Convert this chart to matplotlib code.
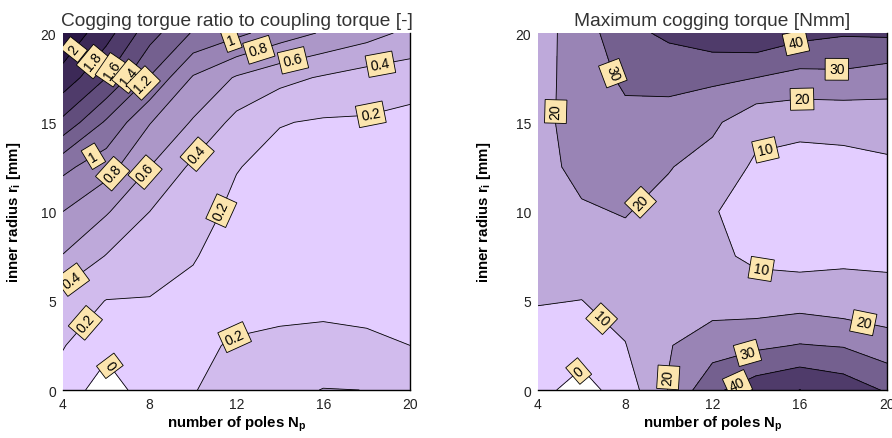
import numpy as np
import matplotlib
matplotlib.use('Agg')
import matplotlib.pyplot as plt
from matplotlib.colors import LinearSegmentedColormap

plt.rcParams['font.family'] = ['Liberation Sans', 'DejaVu Sans']
plt.rcParams['mathtext.fontset'] = 'custom'
plt.rcParams['mathtext.rm'] = 'Liberation Sans'
plt.rcParams['mathtext.bf'] = 'Liberation Sans:bold'

# grid: number of poles (columns) x inner radius (rows)
n_poles = [4, 6, 8, 10, 12, 14, 16, 18, 20]
r_inner = [0, 2.5, 5, 7.5, 10, 12.5, 15, 17.5, 20]

# cogging torque ratio to coupling torque [-], rows = r_inner, cols = n_poles
ratio = [
    [0.12, -0.11, 0.11, 0.19, 0.29, 0.35, 0.405, 0.399, 0.33],
    [0.21, 0.06, 0.15, 0.17, 0.216, 0.26, 0.28, 0.25, 0.20],
    [0.31, 0.195, 0.19, 0.16, 0.14, 0.12, 0.13, 0.12, 0.11],
    [0.59, 0.39, 0.30, 0.21, 0.13, 0.10, 0.09, 0.08, 0.07],
    [0.80, 0.62, 0.40, 0.29, 0.15, 0.10, 0.08, 0.07, 0.06],
    [1.05, 0.88, 0.60, 0.36, 0.21, 0.13, 0.10, 0.09, 0.08],
    [1.55, 1.17, 0.81, 0.58, 0.34, 0.21, 0.18, 0.18, 0.14],
    [1.93, 1.60, 1.19, 0.78, 0.58, 0.46, 0.38, 0.31, 0.29],
    [2.15, 1.88, 1.48, 1.18, 1.05, 0.90, 0.78, 0.68, 0.55],
]

# maximum cogging torque [Nmm]
torque = [
    [3.0, -4.0, 4.9, 20.5, 37.8, 45.6, 50.1, 46.0, 38.9],
    [6.0, 4.3, 9.7, 19.5, 25.0, 28.0, 30.5, 29.3, 24.1],
    [10.5, 9.9, 13.0, 17.0, 16.0, 14.7, 15.9, 13.8, 13.85],
    [13.0, 14.0, 17.0, 16.0, 12.0, 8.2, 6.7, 8.5, 7.8],
    [15.0, 19.0, 20.5, 17.0, 10.5, 7.0, 5.5, 7.0, 6.5],
    [17.0, 22.5, 23.0, 20.5, 16.0, 8.5, 6.5, 7.5, 8.0],
    [18.0, 23.0, 27.0, 26.0, 22.0, 13.0, 12.75, 12.7, 15.1],
    [17.0, 24.0, 32.0, 33.0, 32.0, 30.0, 26.7, 27.5, 24.5],
    [16.0, 25.0, 37.0, 42.0, 46.0, 47.9, 43.2, 41.0, 41.7],
]

ratio_levels = [0, 0.2, 0.4, 0.6, 0.8, 1.0, 1.2, 1.4, 1.6, 1.8, 2.0, 2.2]
torque_levels = [0, 10, 20, 30, 40, 50, 60]

ratio_label_pos = [(4.8, 18.8), (5.6, 18.2), (6.3, 17.9), (7.0, 17.6), (7.7, 17.2),
                   (11.8, 19.5), (13.1, 18.8), (14.6, 18.5), (18.6, 18.5), (18.1, 15.9),
                   (5.6, 12.7), (6.4, 12.0), (7.7, 12.3), (10.2, 13.2), (11.0, 10.2),
                   (4.6, 5.9), (5.0, 3.8), (12.0, 2.8), (6.1, 1.3)]
torque_label_pos = [(15.9, 19.1), (17.7, 18.1), (16.1, 16.1), (7.3, 17.7), (4.9, 15.6),
                    (14.4, 13.6), (8.8, 10.4), (14.2, 6.3), (7.0, 4.1), (18.9, 3.7),
                    (13.6, 2.1), (5.7, 1.3), (10.05, 0.7), (13.1, 0.45)]

cmap = LinearSegmentedColormap.from_list('lav', ['#E3CDFF', '#2A1745'])

fig = plt.figure(figsize=(8.92, 4.39), dpi=100)
ax1 = fig.add_axes([0.0706, 0.1093, 0.389, 0.8132])
ax2 = fig.add_axes([0.6031, 0.1093, 0.3913, 0.8132])

panels = [
    (ax1, ratio, ratio_levels, ratio_label_pos, 'Cogging torgue ratio to coupling torque [-]', -0.115),
    (ax2, torque, torque_levels, torque_label_pos, 'Maximum cogging torque [Nmm]', -0.13),
]

for ax, z, levels, label_pos, title, ylab_x in panels:
    n = len(levels) - 1
    colors = [cmap(i / (n - 1)) for i in range(n)]
    ax.contourf(n_poles, r_inner, np.array(z), levels=levels, colors=colors)
    cs = ax.contour(n_poles, r_inner, np.array(z), levels=levels, colors='k', linewidths=0.6)
    labels = ax.clabel(cs, manual=label_pos, inline=False, fontsize=10,
                       fmt=lambda v: f'{v:g}', colors='k')
    for t in labels:
        t.set_bbox(dict(boxstyle='square,pad=0.28', facecolor='#FCE5AE',
                        edgecolor='k', linewidth=0.6))

    ax.set_xlim(4, 20)
    ax.set_ylim(0, 20)
    ax.set_xticks([4, 8, 12, 16, 20])
    ax.set_yticks([0, 5, 10, 15, 20])
    ax.tick_params(length=0, labelsize=10, labelcolor='#222222', pad=5)
    for side in ['top', 'left']:
        ax.spines[side].set_visible(False)
    for side in ['bottom', 'right']:
        ax.spines[side].set_linewidth(1.0)

    ax.set_title(title, fontsize=13.8, color='#333333', pad=6)
    ax.set_xlabel(r'number of poles $\mathbf{N_p}$', fontsize=10.8, fontweight='bold', labelpad=2)
    ax.set_ylabel(r'inner radius $\mathbf{r_i}$ [mm]', fontsize=10.8, fontweight='bold')
    ax.yaxis.set_label_coords(ylab_x, 0.5)

fig.savefig('out.png', dpi=100)
